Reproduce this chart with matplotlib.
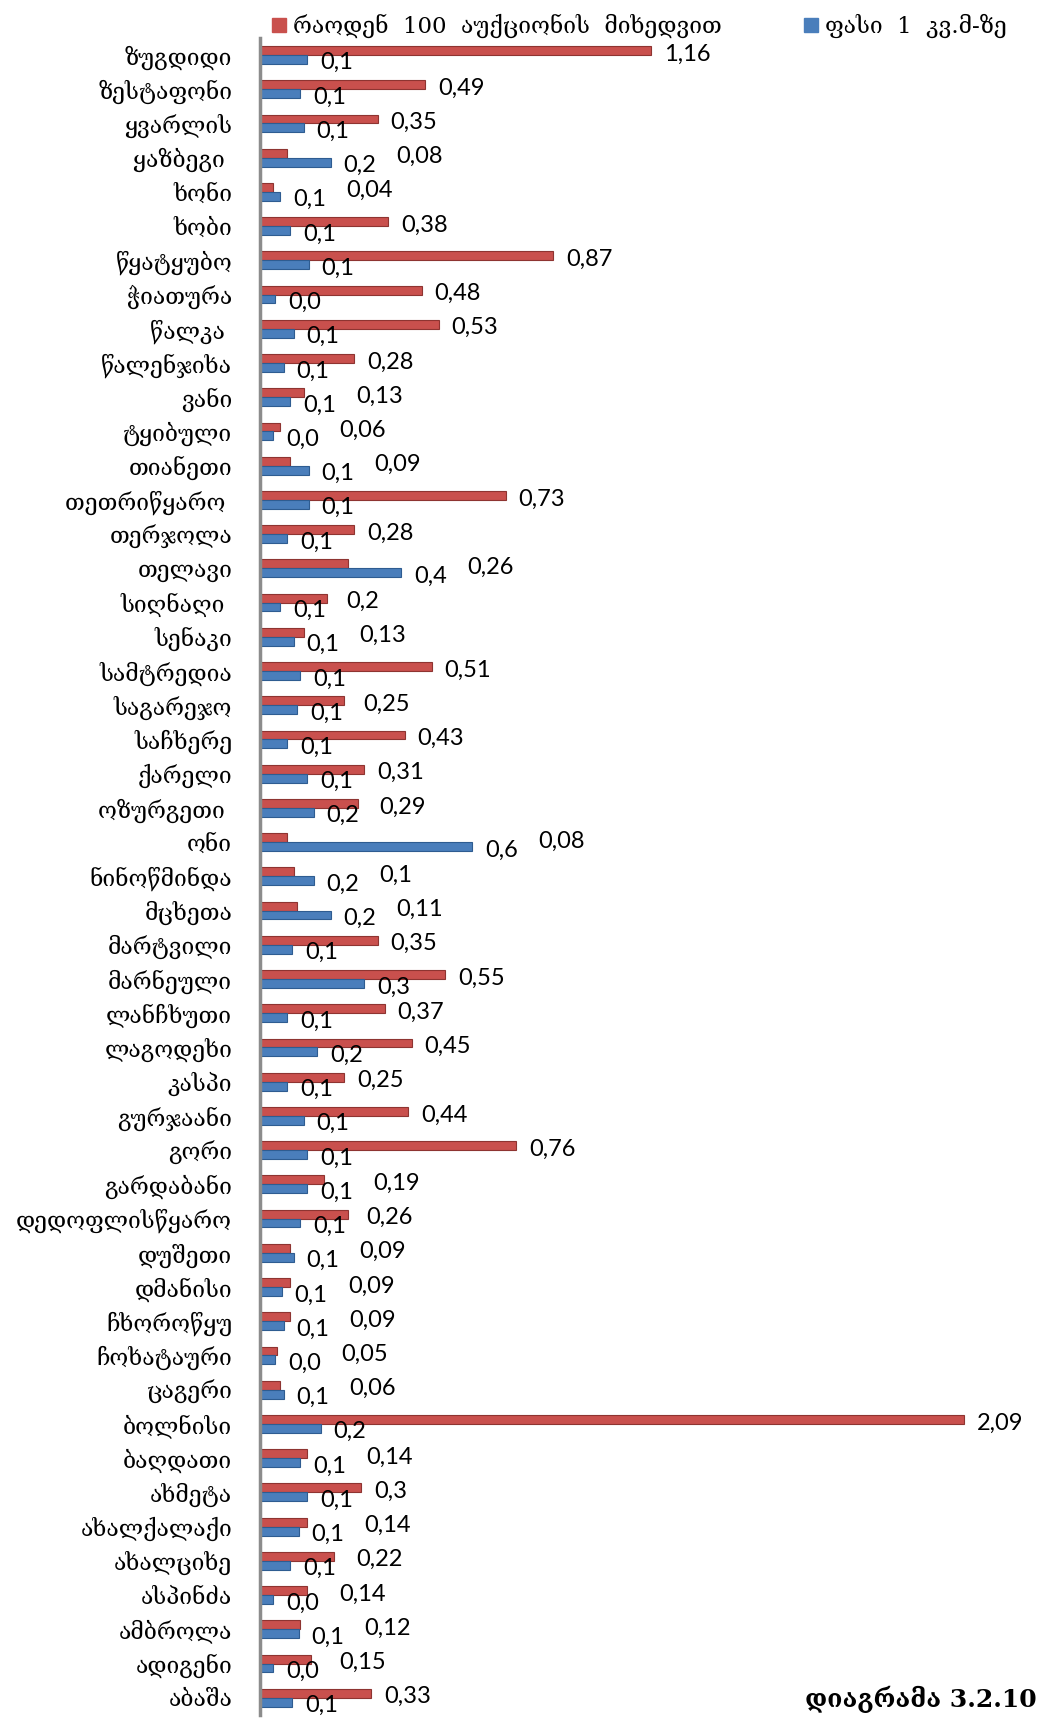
import matplotlib
matplotlib.use('Agg')
import matplotlib.pyplot as plt
from matplotlib.patches import Patch

# districts, top to bottom as in the chart
districts = ['ზუგდიდი', 'ზესტაფონი', 'ყვარლის', 'ყაზბეგი ', 'ხონი', 'ხობი',
             'წყატყუბო', 'ჭიათურა', 'წალკა ', 'წალენჯიხა', 'ვანი', 'ტყიბული',
             'თიანეთი', 'თეთრიწყარო ', 'თერჯოლა', 'თელავი', 'სიღნაღი ', 'სენაკი',
             'სამტრედია', 'საგარეჯო', 'საჩხერე', 'ქარელი', 'ოზურგეთი ', 'ონი',
             'ნინოწმინდა', 'მცხეთა', 'მარტვილი', 'მარნეული', 'ლანჩხუთი', 'ლაგოდეხი',
             'კასპი', 'გურჯაანი', 'გორი', 'გარდაბანი', 'დედოფლისწყარო', 'დუშეთი',
             'დმანისი', 'ჩხოროწყუ', 'ჩოხატაური', 'ცაგერი', 'ბოლნისი', 'ბაღდათი',
             'ახმეტა', 'ახალქალაქი', 'ახალციხე', 'ასპინძა', 'ამბროლა', 'ადიგენი',
             'აბაშა']

# number per 100 auctions
auctions = [1.16, 0.49, 0.35, 0.08, 0.04, 0.38, 0.87, 0.48, 0.53, 0.28, 0.13, 0.06,
            0.09, 0.73, 0.28, 0.26, 0.2, 0.13, 0.51, 0.25, 0.43, 0.31, 0.29, 0.08,
            0.1, 0.11, 0.35, 0.55, 0.37, 0.45, 0.25, 0.44, 0.76, 0.19, 0.26, 0.09,
            0.09, 0.09, 0.05, 0.06, 2.09, 0.14, 0.3, 0.14, 0.22, 0.14, 0.12, 0.15,
            0.33]

# price per 1 sq.m
price = [0.14, 0.12, 0.13, 0.21, 0.06, 0.09, 0.145, 0.045, 0.10, 0.07, 0.09, 0.04,
         0.145, 0.145, 0.08, 0.42, 0.06, 0.10, 0.12, 0.11, 0.08, 0.14, 0.16, 0.63,
         0.16, 0.21, 0.095, 0.31, 0.08, 0.17, 0.08, 0.13, 0.14, 0.14, 0.12, 0.10,
         0.065, 0.07, 0.045, 0.07, 0.18, 0.12, 0.14, 0.115, 0.09, 0.04, 0.115, 0.04,
         0.095]

legend_labels = ['რაოდენ  100  აუქციონის  მიხედვით', 'ფასი  1  კვ.მ-ზე']
caption = 'დიაგრამა 3.2.10'

red = '#C9504D'
blue = '#4A7EBB'
serif = ['DejaVu Serif', 'DejaVu Sans']

fig = plt.figure(figsize=(10.4, 17.2), dpi=100)
ax = fig.add_axes([0.25, 0.003, 0.745, 0.975])

pos = list(range(len(districts)))
h = 0.26
ax.barh([p - h / 2 for p in pos], auctions, height=h, color=red,
        edgecolor='#8E3431', linewidth=0.8)
ax.barh([p + h / 2 for p in pos], price, height=h, color=blue,
        edgecolor='#2E5C91', linewidth=0.8)

ax.set_ylim(len(districts) - 0.5, -0.5)
ax.set_xlim(0, 2.3)
ax.set_yticks(pos)
ax.set_yticklabels(districts, family=serif, fontsize=16.5)
ax.tick_params(axis='y', length=0, pad=20)
ax.set_xticks([])
for s in ['top', 'right', 'bottom']:
    ax.spines[s].set_visible(False)
ax.spines['left'].set_color('#8C8C8C')
ax.spines['left'].set_linewidth(2.5)

# value labels: blue first, red is pushed past the blue label when short
fig.canvas.draw()
rend = fig.canvas.get_renderer()
inv = ax.transData.inverted()
pad = 0.038
for i in pos:
    bl = f'{price[i]:.1f}'.replace('.', ',')
    bt = ax.text(price[i] + pad, i + h / 2 + 0.1, bl, va='center', ha='left',
                 family='Lato', fontsize=17)
    bb = bt.get_window_extent(rend)
    right = inv.transform((bb.x1, bb.y0))[0]
    rx = max(auctions[i] + pad, right + 0.06)
    rl = f'{auctions[i]:g}'.replace('.', ',')
    ax.text(rx, i - h / 2 + 0.1, rl, va='center', ha='left',
            family='Lato', fontsize=17)

handles = [Patch(color=red), Patch(color=blue)]
fig.legend(handles, legend_labels, loc='upper left', bbox_to_anchor=(0.242, 1.004),
           ncol=2, frameon=False, handlelength=0.6, handleheight=0.6,
           handletextpad=0.3, columnspacing=3.6, prop={'family': serif, 'size': 16.5})

fig.text(0.997, 0.004, caption, ha='right', va='bottom', family=serif,
         fontsize=18, fontweight='bold')

fig.savefig('out.png', dpi=100)
